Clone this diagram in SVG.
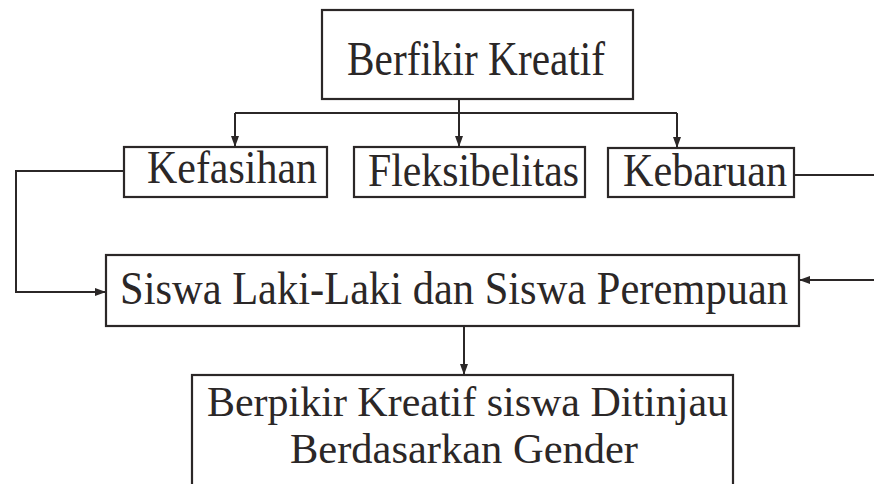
<svg xmlns="http://www.w3.org/2000/svg" width="874" height="484" viewBox="0 0 874 484">
<style>
.box{fill:#fff;stroke:#2b2727;stroke-width:2.2}
.t{font-family:'Liberation Serif','Times New Roman',Times,serif;fill:#2b2727}
.c{fill:none;stroke:#2b2727;stroke-width:2}
</style>
<defs>
<marker id="ah" markerUnits="userSpaceOnUse" markerWidth="11" markerHeight="11" viewBox="0 0 11 11" refX="11" refY="5.5" orient="auto">
<path d="M0,1.5 L11,5.5 L0,9.5 Z" fill="#2b2727"/>
</marker>
</defs>
<rect width="874" height="484" fill="#fff"/>
<g id="connectors">
<path class="c" d="M459,99 V113"/>
<path class="c" d="M235,113 H677"/>
<path class="c" d="M235,113 V147" marker-end="url(#ah)"/>
<path class="c" d="M459,113 V147" marker-end="url(#ah)"/>
<path class="c" d="M677,113 V148" marker-end="url(#ah)"/>
<path class="c" d="M124,171 H16 V292 H106" marker-end="url(#ah)"/>
<path class="c" d="M794,175 H874"/>
<path class="c" d="M874,280 H799" marker-end="url(#ah)"/>
<path class="c" d="M464,326 V375" marker-end="url(#ah)"/>
</g>
<g id="berfikir-kreatif">
<rect class="box" x="322" y="10" width="311" height="89"/>
<text class="t" x="347" y="75" font-size="48" textLength="258" lengthAdjust="spacingAndGlyphs">Berfikir Kreatif</text>
</g>
<g id="kefasihan">
<rect class="box" x="124" y="147" width="203" height="50"/>
<text class="t" x="147" y="183" font-size="46" textLength="170" lengthAdjust="spacingAndGlyphs">Kefasihan</text>
</g>
<g id="fleksibelitas">
<rect class="box" x="354" y="147" width="231" height="50"/>
<text class="t" x="368" y="186" font-size="46" textLength="211" lengthAdjust="spacingAndGlyphs">Fleksibelitas</text>
</g>
<g id="kebaruan">
<rect class="box" x="608" y="148" width="186" height="49"/>
<text class="t" x="623" y="186" font-size="46" textLength="164" lengthAdjust="spacingAndGlyphs">Kebaruan</text>
</g>
<g id="siswa">
<rect class="box" x="106" y="255" width="693" height="71"/>
<text class="t" x="120" y="304" font-size="46" textLength="668" lengthAdjust="spacingAndGlyphs">Siswa Laki-Laki dan Siswa Perempuan</text>
</g>
<g id="hasil">
<rect class="box" x="192" y="375" width="541" height="130"/>
<text class="t" x="207" y="416" font-size="42" textLength="521" lengthAdjust="spacingAndGlyphs">Berpikir Kreatif siswa Ditinjau</text>
<text class="t" x="290" y="463" font-size="42" textLength="348" lengthAdjust="spacingAndGlyphs">Berdasarkan Gender</text>
</g>
</svg>
